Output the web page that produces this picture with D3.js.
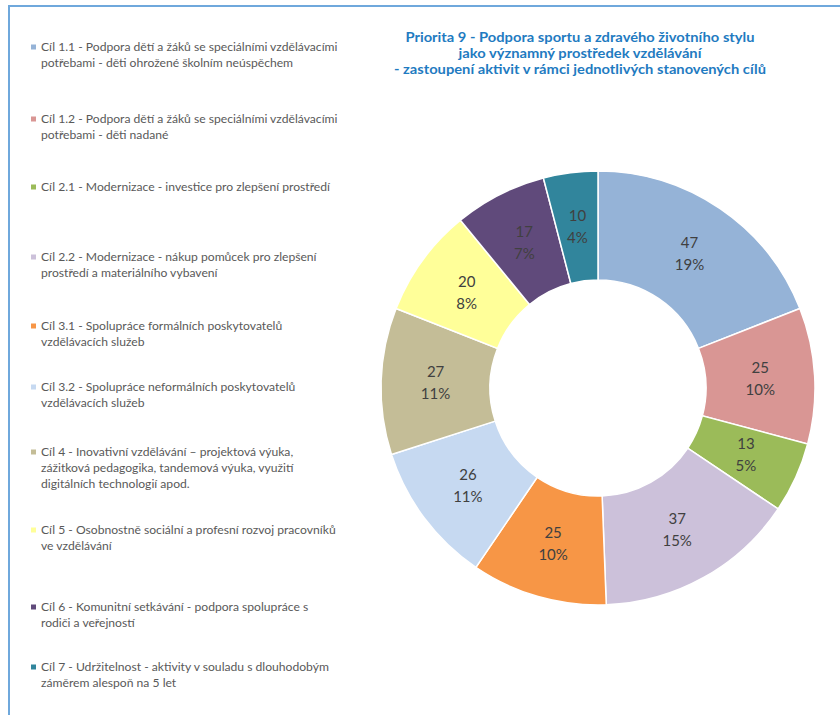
<!DOCTYPE html>
<html><head><meta charset="utf-8">
<script src="https://cdn.jsdelivr.net/npm/d3@7"></script>
<style>html,body{margin:0;padding:0;background:#fff;}svg{display:block;}</style>
</head><body>
<svg id="chart" width="840" height="715"></svg>
<script>
const categories = ["Cíl 1.1","Cíl 1.2","Cíl 2.1","Cíl 2.2","Cíl 3.1","Cíl 3.2","Cíl 4","Cíl 5","Cíl 6","Cíl 7"];
const values = [47,25,13,37,25,26,27,20,17,10];
const percentLabels = ["19%","10%","5%","15%","10%","11%","11%","8%","7%","4%"];
const colors = ["#95B3D7","#D99694","#9BBB59","#CCC1DA","#F79646","#C6D9F1","#C4BD97","#FFFF99","#604A7B","#31859C"];
const legendLines = [
  ["Cíl 1.1 - Podpora dětí a žáků se speciálními vzdělávacími","potřebami - děti ohrožené školním neúspěchem"],
  ["Cíl 1.2 - Podpora dětí a žáků se speciálními vzdělávacími","potřebami - děti nadané"],
  ["Cíl 2.1 - Modernizace - investice pro zlepšení prostředí"],
  ["Cíl 2.2 - Modernizace - nákup pomůcek pro zlepšení","prostředí a materiálního vybavení"],
  ["Cíl 3.1 - Spolupráce formálních poskytovatelů","vzdělávacích služeb"],
  ["Cíl 3.2 - Spolupráce neformálních poskytovatelů","vzdělávacích služeb"],
  ["Cíl 4 - Inovativní vzdělávání – projektová výuka,","zážitková pedagogika, tandemová výuka, využití","digitálních technologií apod."],
  ["Cíl 5 - Osobnostně sociální a profesní rozvoj pracovníků","ve vzdělávání"],
  ["Cíl 6 - Komunitní setkávání - podpora spolupráce s","rodiči a veřejností"],
  ["Cíl 7 - Udržitelnost - aktivity v souladu s dlouhodobým","záměrem alespoň na 5 let"]
];
const titleLines = ["Priorita 9 - Podpora sportu a zdravého životního stylu","jako významný prostředek vzdělávání","- zastoupení aktivit v rámci jednotlivých stanovených cílů"];

const svg = d3.select("#chart");
const FONT = "Lato, 'Open Sans', sans-serif";

// frame
svg.append("rect").attr("x",9).attr("y",6).attr("width",900).attr("height",800)
  .attr("fill","none").attr("stroke","#6FA8DC").attr("stroke-width",2);

// title
const tg = svg.append("g").attr("font-family",FONT).attr("font-weight","bold").attr("fill","#1F7BC1").attr("text-anchor","middle");
const titleY = [38,54,70];
const tt = tg.selectAll("text").data(titleLines).join("text")
  .attr("x",580).attr("y",(d,i)=>titleY[i]).attr("dy","0.35em").attr("font-size",12.5).text(d=>d);
{
  const widths = tt.nodes().map(n=>n.getComputedTextLength());
  const k = 372/widths[2];
  tt.attr("textLength",(d,i)=>widths[i]*k).attr("lengthAdjust","spacingAndGlyphs");
}

// donut
const cx = 598, cy = 388, rOuter = 217, rInner = 108;
const pie = d3.pie().sort(null).value(d=>d)(values);
const arc = d3.arc().innerRadius(rInner).outerRadius(rOuter);
const g = svg.append("g").attr("transform",`translate(${cx},${cy})`);
g.selectAll("path").data(pie).join("path")
  .attr("d",arc).attr("fill",(d,i)=>colors[i]).attr("stroke","#fff").attr("stroke-width",1.5);
const lab = g.selectAll("g.lab").data(pie).join("g").attr("class","lab")
  .attr("transform",d=>`translate(${arc.centroid(d)})`)
  .attr("font-family",FONT).attr("font-size",15).attr("fill","#404040").attr("text-anchor","middle");
lab.append("text").attr("y",-11).attr("dy","0.35em").text(d=>d.value);
lab.append("text").attr("y",11).attr("dy","0.35em").text((d,i)=>percentLabels[i]);

// legend
const legendY = [47,119,187,257,326,387,452,530,607,667];
const lg = svg.append("g").attr("font-family",FONT).attr("fill","#595959");
const items = lg.selectAll("g.item").data(legendLines).join("g").attr("class","item");
items.append("rect").attr("x",31).attr("y",(d,i)=>legendY[i]-2.5).attr("width",5).attr("height",5)
  .attr("fill",(d,i)=>colors[i]);
const ltexts = items.selectAll("text").data((d,i)=>d.map((t,j)=>({t,y:legendY[i]+j*16}))).join("text")
  .attr("x",41).attr("y",d=>d.y).attr("dy","0.35em").attr("font-size",11).text(d=>d.t);
{
  const w = ltexts.nodes()[0].getComputedTextLength();
  const fs = 11*297/w;
  ltexts.attr("font-size",fs);
}
</script>
</body></html>
